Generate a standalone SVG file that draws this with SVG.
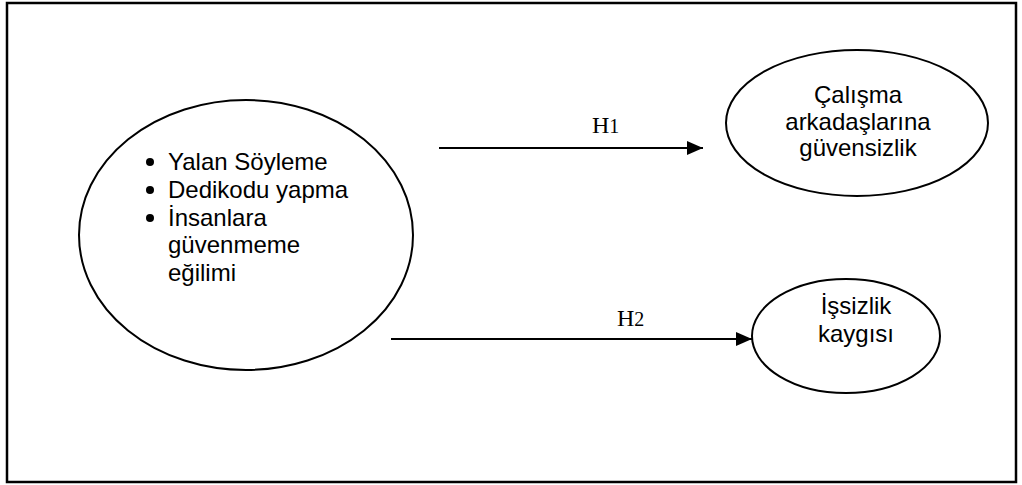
<svg xmlns="http://www.w3.org/2000/svg" width="1022" height="485" viewBox="0 0 1022 485">
<style>
.node ellipse{fill:#fff;stroke:#000;stroke-width:2}
.t{font-family:"Liberation Sans",Arial,sans-serif;font-size:24px;fill:#000}
.h{font-family:"Liberation Serif","Times New Roman",serif;font-size:24px;fill:#000}
.conn line{stroke:#000;stroke-width:2}
</style>
<defs>
<marker id="arr" markerWidth="16" markerHeight="14" refX="16" refY="7" orient="auto" markerUnits="userSpaceOnUse">
<path d="M0,0 L16,7 L0,14 Z" fill="#000"/>
</marker>
</defs>
<rect x="7" y="3" width="1009" height="479" fill="#fff" stroke="#000" stroke-width="2.5"/>
<g id="n-left" class="node">
<ellipse cx="246" cy="235" rx="167" ry="135"/>
<circle cx="150" cy="162" r="4"/>
<circle cx="150" cy="190" r="4"/>
<circle cx="150" cy="218" r="4"/>
<text class="t" x="168" y="170">Yalan Söyleme</text>
<text class="t" x="168" y="198">Dedikodu yapma</text>
<text class="t" x="168" y="226">İnsanlara</text>
<text class="t" x="168" y="253">güvenmeme</text>
<text class="t" x="168" y="281">eğilimi</text>
</g>
<g id="n-calisma" class="node">
<ellipse cx="857" cy="123" rx="131" ry="73"/>
<text class="t" x="858" y="103" text-anchor="middle">Çalışma</text>
<text class="t" x="858" y="130" text-anchor="middle">arkadaşlarına</text>
<text class="t" x="858" y="156" text-anchor="middle">güvensizlik</text>
</g>
<g id="n-issizlik" class="node">
<ellipse cx="846" cy="336" rx="94" ry="57"/>
<text class="t" x="856" y="314" text-anchor="middle">İşsizlik</text>
<text class="t" x="856" y="342" text-anchor="middle">kaygısı</text>
</g>
<g id="connectors" class="conn">
<line x1="439" y1="148" x2="703" y2="148" marker-end="url(#arr)"/>
<line x1="391" y1="339" x2="752" y2="339" marker-end="url(#arr)"/>
<text class="h" x="592" y="133">H<tspan font-size="20">1</tspan></text>
<text class="h" x="617" y="326">H<tspan font-size="20">2</tspan></text>
</g>
</svg>
